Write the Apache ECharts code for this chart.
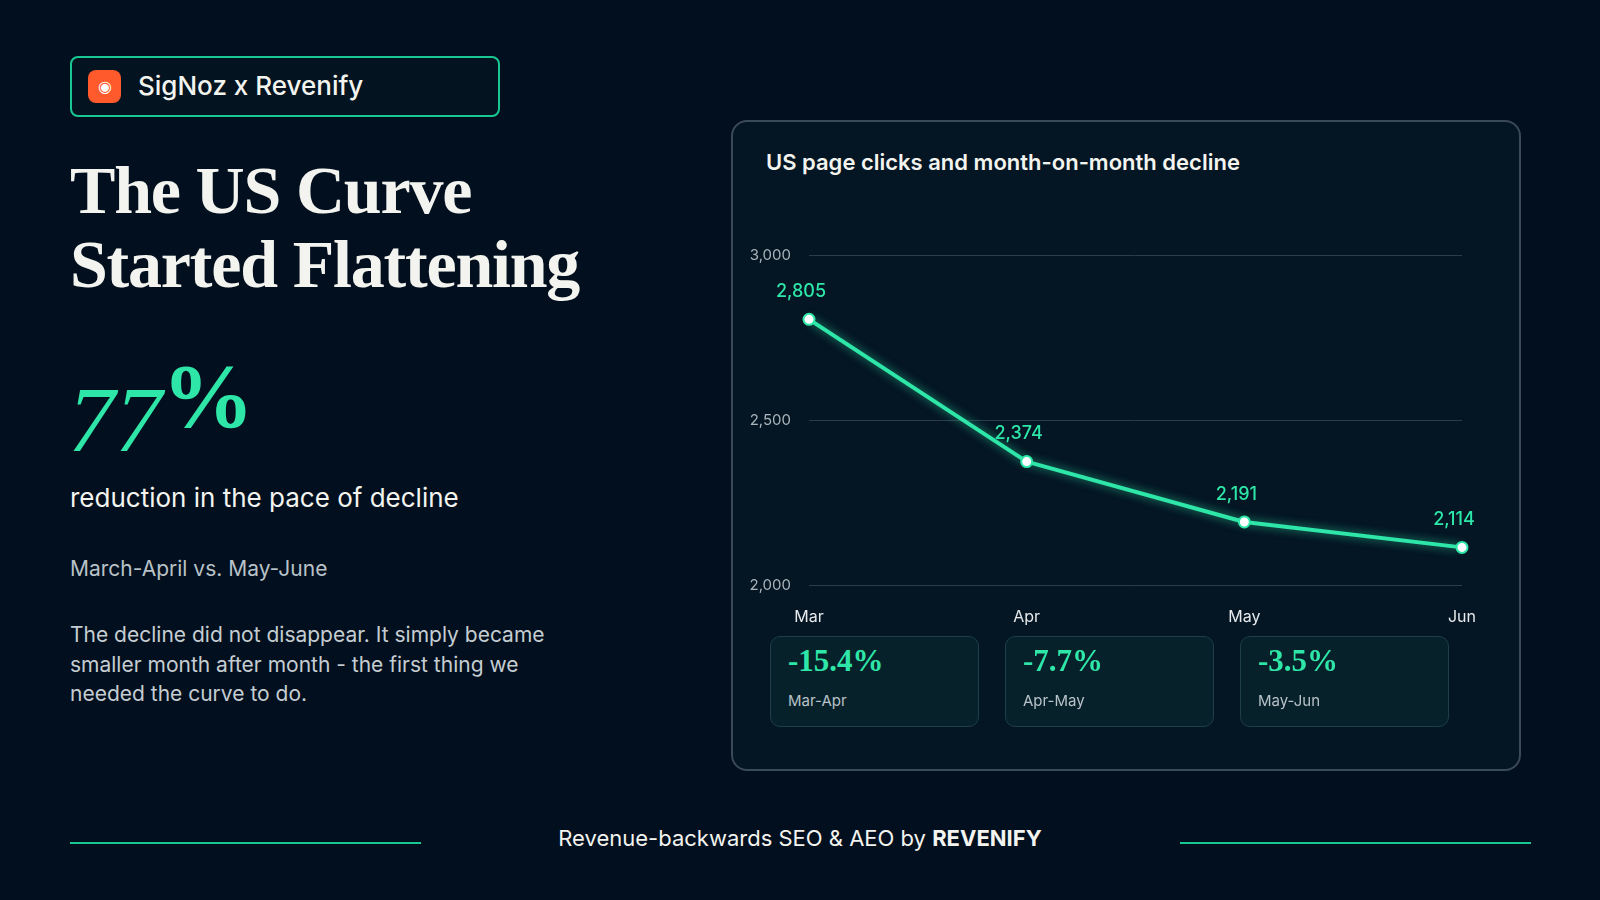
<!DOCTYPE html>
<html><head><meta charset="utf-8">
<script src="https://cdn.jsdelivr.net/npm/echarts@6/dist/echarts.min.js"></script>
<style>
body{margin:0;width:1600px;height:900px;background:#020f1e;font-family:Inter,"Noto Sans",sans-serif;color:#f3f4ef;position:relative;overflow:hidden}
.abs{position:absolute}
.serif{font-family:"Liberation Serif","DejaVu Serif",serif}
.card{position:absolute;top:636px;width:209px;height:91px;background:#07212a;border:1px solid #1e3f47;border-radius:10px;box-sizing:border-box}
.card .v{position:absolute;left:17px;top:6px;font-size:31px;color:#2ee6a8;font-weight:bold}
.card .l{position:absolute;left:17px;top:54px;font-size:15px;color:#b8c2c8}
</style></head><body>
<div class="abs" style="left:70px;top:56px;width:430px;height:61px;border:2px solid #19c792;border-radius:8px;box-sizing:border-box;background:#03131f"></div>
<div class="abs" style="left:88px;top:70px;width:33px;height:33px;background:#ff5a2c;border-radius:8px;color:#fff;font-size:16px;text-align:center;line-height:33px">◉</div>
<div class="abs" style="left:138px;top:70px;font-size:26px;font-weight:500">SigNoz x Revenify</div>
<div class="abs serif" style="left:70px;top:153px;font-size:68px;line-height:74px;font-weight:bold;letter-spacing:-1.2px">The US Curve<br>Started Flattening</div>
<div class="abs serif" style="left:68px;top:372px;font-size:94px;line-height:94px;color:#2ee6a8"><span style="font-style:italic">77</span><span style="font-size:92px;position:relative;top:-24px;font-weight:bold">%</span></div>
<div class="abs" style="left:70px;top:482px;font-size:26px">reduction in the pace of decline</div>
<div class="abs" style="left:70px;top:556px;font-size:21px;color:#b8c2c8">March-April vs. May-June</div>
<div class="abs" style="left:70px;top:620px;font-size:21px;line-height:29.5px;color:#c5cdd2;width:520px">The decline did not disappear. It simply became smaller month after month - the first thing we needed the curve to do.</div>
<div class="abs" style="left:731px;top:120px;width:790px;height:651px;border:2px solid #3b4a58;border-radius:16px;box-sizing:border-box;background:#041523"></div>
<div class="abs" style="left:766px;top:149px;font-size:22px;font-weight:600">US page clicks and month-on-month decline</div>
<div id="c" class="abs" style="left:731px;top:120px;width:790px;height:651px"></div>
<div id="cards"></div>
<div class="abs" style="left:70px;top:842px;width:351px;height:2px;background:#19c792"></div>
<div class="abs" style="left:1180px;top:842px;width:351px;height:2px;background:#19c792"></div>
<div class="abs" style="left:0;width:1600px;top:825px;text-align:center;font-size:22px">Revenue-backwards SEO &amp; AEO by <b>REVENIFY</b></div>
<script>
const months=["Mar","Apr","May","Jun"];
const clicks=[2805,2374,2191,2114];
const changes=["-15.4%","-7.7%","-3.5%"];
const changeLabels=["Mar-Apr","Apr-May","May-Jun"];
const yTicks=[2000,2500,3000];
const cardX=[770,1005,1240];
let h="";
changes.forEach((v,i)=>{h+=`<div class="card" style="left:${cardX[i]}px"><div class="v serif">${v}</div><div class="l">${changeLabels[i]}</div></div>`});
document.getElementById('cards').innerHTML=h;
const ch=echarts.init(document.getElementById('c'));
ch.setOption({
 grid:{left:78,right:59,top:135,bottom:186},
 xAxis:{type:'category',data:months,boundaryGap:false,axisLine:{show:false},axisTick:{show:false},
   axisLabel:{color:'#e6eaec',fontSize:16,margin:24,fontFamily:'Inter'}},
 yAxis:{type:'value',min:2000,max:3000,interval:500,
   splitLine:{lineStyle:{color:'#2a3d48'}},
   axisLabel:{color:'#aab4ba',fontSize:15,margin:18,fontFamily:'Inter',formatter:v=>v.toLocaleString('en-US')}},
 series:[{type:'line',data:clicks,symbol:'circle',symbolSize:11,
   lineStyle:{color:'#2ee6a8',width:4,shadowColor:'rgba(46,230,168,0.7)',shadowBlur:10},
   itemStyle:{color:'#ffffff',borderColor:'#2ee6a8',borderWidth:2},
   label:{show:true,position:'top',distance:12,offset:[-8,0],color:'#2ee6a8',fontSize:18,fontWeight:500,fontFamily:'Inter',
     formatter:p=>p.value.toLocaleString('en-US')}}]
});
</script></body></html>
